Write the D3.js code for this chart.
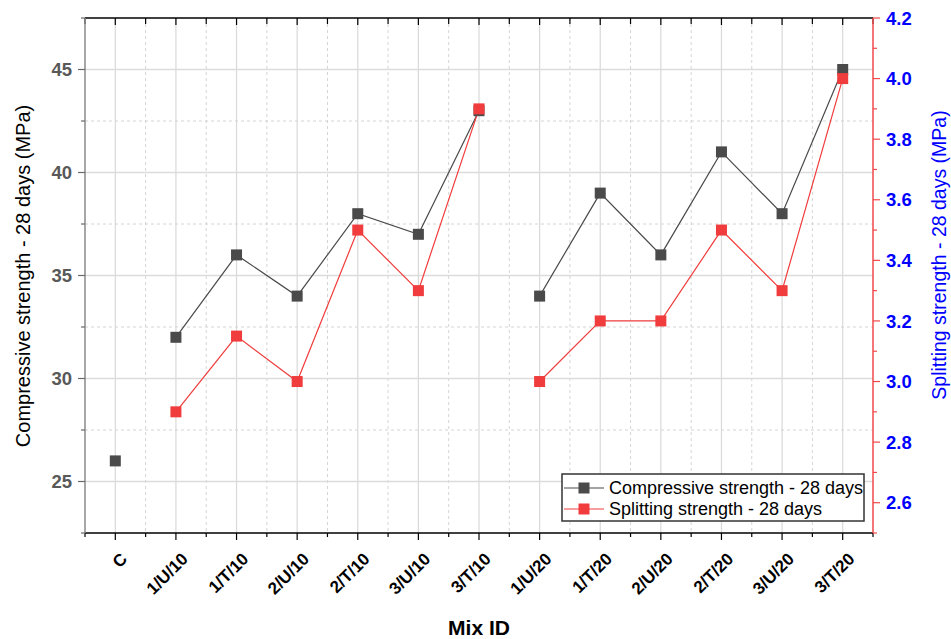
<!DOCTYPE html>
<html>
<head>
<meta charset="utf-8">
<script src="https://cdn.jsdelivr.net/npm/d3@7"></script>
<style>
  body { margin: 0; background: #fff; }
  svg { font-family: "Liberation Sans", Arial, sans-serif; }
</style>
</head>
<body>
<svg id="chart" width="951" height="639"></svg>
<script>
// Mix IDs along the x axis
const mixIds = ['C', '1/U/10', '1/T/10', '2/U/10', '2/T/10', '3/U/10', '3/T/10',
                '1/U/20', '1/T/20', '2/U/20', '2/T/20', '3/U/20', '3/T/20'];
// Line groups: points only connect inside the same group
const mixGroup = [0, 1, 1, 1, 1, 1, 1, 2, 2, 2, 2, 2, 2];

// Compressive strength - 28 days (MPa), left axis
const compressive = [26, 32, 36, 34, 38, 37, 43, 34, 39, 36, 41, 38, 45];
// Splitting strength - 28 days (MPa), right axis
const splitting = [null, 2.9, 3.15, 3.0, 3.5, 3.3, 3.9, 3.0, 3.2, 3.2, 3.5, 3.3, 4.0];

const leftTicks = [25, 30, 35, 40, 45];
const rightTicks = [2.6, 2.8, 3.0, 3.2, 3.4, 3.6, 3.8, 4.0, 4.2];

const svg = d3.select('#chart');
const margin = { left: 85, right: 78, top: 18, bottom: 106 };
const W = 951, H = 639;
const x0 = margin.left, x1 = W - margin.right;
const y0 = H - margin.bottom, y1 = margin.top;

const x = d3.scalePoint().domain(mixIds).range([x0, x1]).padding(0.5);
const yL = d3.scaleLinear().domain([22.5, 47.5]).range([y0, y1]);
const yR = d3.scaleLinear().domain([2.5, 4.2]).range([y0, y1]);
const step = x.step();

// Grid lines
const grid = svg.append('g');
// half-step (minor) vertical dashed
d3.range(1, mixIds.length).forEach(i => {
  const gx = x0 + step * i;
  grid.append('line').attr('x1', gx).attr('x2', gx).attr('y1', y1).attr('y2', y0)
    .attr('stroke', '#d4d4d4').attr('stroke-dasharray', '3,3').attr('stroke-width', 1);
});
mixIds.forEach(m => {
  grid.append('line').attr('x1', x(m)).attr('x2', x(m)).attr('y1', y1).attr('y2', y0)
    .attr('stroke', '#d9d9d9').attr('stroke-width', 1.2);
});
[27.5, 32.5, 37.5, 42.5].forEach(v => {
  grid.append('line').attr('x1', x0).attr('x2', x1).attr('y1', yL(v)).attr('y2', yL(v))
    .attr('stroke', '#d4d4d4').attr('stroke-dasharray', '3,3').attr('stroke-width', 1);
});
leftTicks.forEach(v => {
  grid.append('line').attr('x1', x0).attr('x2', x1).attr('y1', yL(v)).attr('y2', yL(v))
    .attr('stroke', '#dcdcdc').attr('stroke-width', 1.3);
});

// Bottom axis (ticks out) with minor ticks at half steps
const axB = svg.append('g').attr('transform', `translate(0,${y0})`);
axB.append('line').attr('x1', x0).attr('x2', x1).attr('stroke', '#000').attr('stroke-width', 1.5);
d3.range(0, mixIds.length + 1).forEach(i => {
  const gx = x0 + step * i;
  axB.append('line').attr('x1', gx).attr('x2', gx).attr('y1', 0).attr('y2', 4)
    .attr('stroke', '#000').attr('stroke-width', 1.2);
});
axB.selectAll('.maj').data(mixIds).join('line')
  .attr('x1', d => x(d)).attr('x2', d => x(d)).attr('y1', 0).attr('y2', 7)
  .attr('stroke', '#000').attr('stroke-width', 1.2);
axB.selectAll('text').data(mixIds).join('text')
  .attr('transform', d => `translate(${x(d) + 13},${27}) rotate(-45)`)
  .attr('text-anchor', 'end')
  .attr('font-size', 17).attr('font-weight', 'bold').attr('fill', '#000')
  .text(d => d);

// Top axis (ticks in)
const axT = svg.append('g').attr('transform', `translate(0,${y1})`);
axT.append('line').attr('x1', x0).attr('x2', x1).attr('stroke', '#000').attr('stroke-width', 1.5);
d3.range(0, mixIds.length + 1).forEach(i => {
  const gx = x0 + step * i;
  axT.append('line').attr('x1', gx).attr('x2', gx).attr('y1', 0).attr('y2', 6)
    .attr('stroke', '#000').attr('stroke-width', 1.2);
});
mixIds.forEach(m => {
  axT.append('line').attr('x1', x(m)).attr('x2', x(m)).attr('y1', 0).attr('y2', 7)
    .attr('stroke', '#000').attr('stroke-width', 1.2);
});

// Left axis
const axL = svg.append('g').attr('transform', `translate(${x0},0)`);
axL.append('line').attr('y1', y1).attr('y2', y0).attr('stroke', '#8a8a8a').attr('stroke-width', 1.5);
d3.range(22.5, 47.6, 2.5).forEach(v => {
  const major = leftTicks.includes(v);
  axL.append('line').attr('x1', 0).attr('x2', major ? -7 : -4).attr('y1', yL(v)).attr('y2', yL(v))
    .attr('stroke', '#6a6a6a').attr('stroke-width', 1.2);
});
axL.selectAll('text').data(leftTicks).join('text')
  .attr('x', -13).attr('y', d => yL(d)).attr('dy', '0.36em')
  .attr('text-anchor', 'end').attr('font-size', 18.5).attr('font-weight', 'bold').attr('fill', '#595959')
  .text(d => d);

// Right axis
const axR = svg.append('g').attr('transform', `translate(${x1},0)`);
axR.append('line').attr('y1', y1).attr('y2', y0).attr('stroke', '#f04848').attr('stroke-width', 1.5);
d3.range(25, 43).forEach(k => {
  const v = k / 10;
  const major = k % 2 === 0;
  axR.append('line').attr('x1', 0).attr('x2', major ? 7 : 4).attr('y1', yR(v)).attr('y2', yR(v))
    .attr('stroke', '#f04848').attr('stroke-width', 1.2);
});
axR.selectAll('text').data(rightTicks).join('text')
  .attr('x', 13).attr('y', d => yR(d)).attr('dy', '0.36em')
  .attr('font-size', 18.5).attr('font-weight', 'bold').attr('fill', '#0000ff')
  .text(d => d.toFixed(1));

// Axis titles
svg.append('text')
  .attr('transform', `translate(29.5,276) rotate(-90)`)
  .attr('text-anchor', 'middle').attr('font-size', 20).attr('fill', '#000')
  .text('Compressive strength - 28 days (MPa)');
svg.append('text')
  .attr('transform', `translate(946,255) rotate(-90)`)
  .attr('text-anchor', 'middle').attr('font-size', 19.5).attr('fill', '#0000ff')
  .text('Splitting strength - 28 days (MPa)');
svg.append('text')
  .attr('x', (x0 + x1) / 2).attr('y', 635)
  .attr('text-anchor', 'middle').attr('font-size', 21).attr('font-weight', 'bold').attr('fill', '#000')
  .text('Mix ID');

// Series
const series = [
  { name: 'Compressive strength - 28 days', values: compressive, y: yL, color: '#4a4a4a' },
  { name: 'Splitting strength - 28 days', values: splitting, y: yR, color: '#f03c3c' }
];

series.forEach(s => {
  const pts = mixIds.map((m, i) => ({ m, v: s.values[i], g: mixGroup[i] })).filter(p => p.v != null);
  const groups = d3.groups(pts, p => p.g);
  const line = d3.line().x(p => x(p.m)).y(p => s.y(p.v));
  groups.forEach(([, gp]) => {
    if (gp.length > 1) {
      svg.append('path').attr('d', line(gp)).attr('fill', 'none')
        .attr('stroke', s.color).attr('stroke-width', 1.2);
    }
  });
});
series.forEach(s => {
  const pts = mixIds.map((m, i) => ({ m, v: s.values[i] })).filter(p => p.v != null);
  svg.append('g').selectAll('rect').data(pts).join('rect')
    .attr('x', p => x(p.m) - 5.5).attr('y', p => s.y(p.v) - 5.5)
    .attr('width', 11).attr('height', 11).attr('fill', s.color);
});

// Legend
const lg = svg.append('g').attr('transform', 'translate(562,474)');
lg.append('rect').attr('width', 302).attr('height', 47)
  .attr('fill', '#fff').attr('stroke', '#333').attr('stroke-width', 1.5);
series.forEach((s, i) => {
  const ly = 14 + i * 21;
  lg.append('line').attr('x1', 2).attr('x2', 42).attr('y1', ly).attr('y2', ly)
    .attr('stroke', s.color).attr('stroke-width', 1.2);
  lg.append('rect').attr('x', 16.5).attr('y', ly - 5.5).attr('width', 11).attr('height', 11).attr('fill', s.color);
  lg.append('text').attr('x', 47).attr('y', ly).attr('dy', '0.36em')
    .attr('font-size', 18).attr('fill', '#000').text(s.name);
});
</script>
</body>
</html>
